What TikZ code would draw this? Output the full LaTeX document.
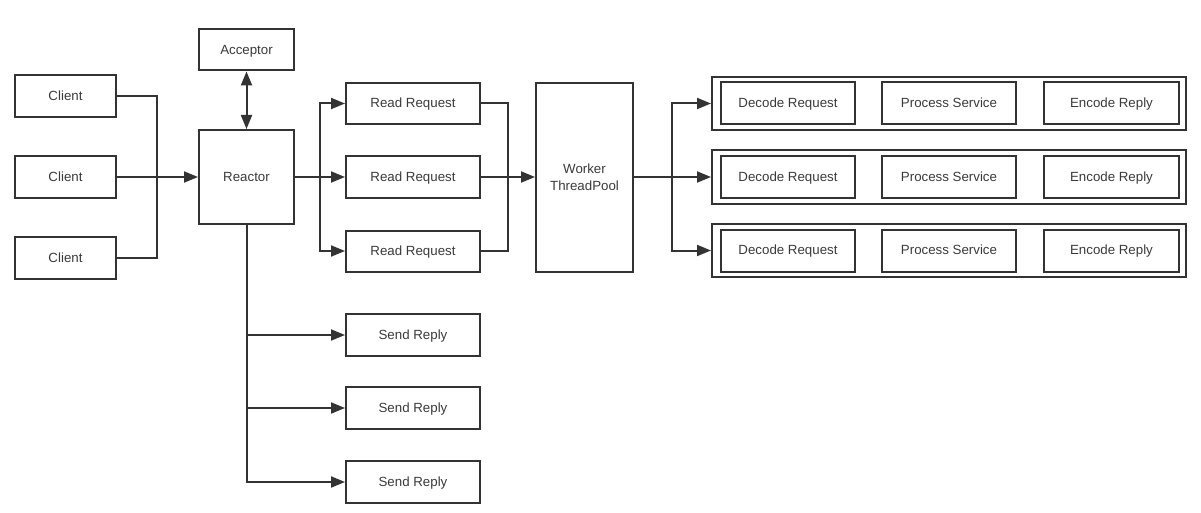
\documentclass[tikz,border=0pt]{standalone}
\usepackage{fontspec}
\setmainfont{Liberation Sans}
\usetikzlibrary{arrows.meta}
\definecolor{ink}{HTML}{333333}
\definecolor{txt}{HTML}{3A3A3A}
\begin{document}
\begin{tikzpicture}[x=1pt,y=-1pt,
  base/.style={draw=ink,line width=2pt,inner sep=0pt,text=txt,font=\fontsize{13.3}{17}\selectfont},
  box/.style={base,text height=0.82em,text depth=0pt},
  link/.style={draw=ink,line width=2pt},
  arr/.style={link,-{Triangle[length=14pt,width=11pt]}},
  darr/.style={link,{Triangle[length=14pt,width=11pt]}-{Triangle[length=14pt,width=11pt]}}]
\useasboundingbox (0,0) rectangle (1201,513);
% left
\node[box,minimum width=101pt,minimum height=42pt] (c1) at (65.5,96) {Client};
\node[box,minimum width=101pt,minimum height=42pt] (c2) at (65.5,177) {Client};
\node[box,minimum width=101pt,minimum height=42pt] (c3) at (65.5,258) {Client};
\node[box,minimum width=95pt,minimum height=41pt] (acc) at (246.5,50) {Acceptor};
\node[box,minimum width=95pt,minimum height=94pt] (rea) at (246.5,177) {Reactor};
% read requests
\node[box,minimum width=134pt,minimum height=41pt] (r1) at (413,103.5) {Read Request};
\node[box,minimum width=134pt,minimum height=41pt] (r2) at (413,177) {Read Request};
\node[box,minimum width=134pt,minimum height=41pt] (r3) at (413,251) {Read Request};
% send replies
\node[box,minimum width=134pt,minimum height=42pt] (s1) at (413,335) {Send Reply};
\node[box,minimum width=134pt,minimum height=42pt] (s2) at (413,408) {Send Reply};
\node[box,minimum width=134pt,minimum height=42pt] (s3) at (413,482) {Send Reply};
% worker
\node[base,align=center,minimum width=97pt,minimum height=189pt] (wk) at (584.5,177.5) {Worker\\ThreadPool};
% groups
\foreach \i/\y in {1/103.5,2/177,3/250.5}{
  \node[base,minimum width=474pt,minimum height=53pt] (g\i) at (949,\y) {};
  \node[box,minimum width=134pt,minimum height=42pt] (d\i) at (788,\y) {Decode Request};
  \node[box,minimum width=134pt,minimum height=42pt] (p\i) at (949,\y) {Process Service};
  \node[box,minimum width=135pt,minimum height=42pt] (e\i) at (1111.5,\y) {Encode Reply};
}
% junction coordinates
\coordinate (jx) at (157,177);
\coordinate (bx) at (320,177);
\coordinate (mx) at (508,177);
\coordinate (wx) at (672,177);
% clients -> reactor
\draw[link] (c1.east) -| (jx);
\draw[link] (c3.east) -| (jx);
\draw[arr] (c2.east) -- (rea.west);
% acceptor <-> reactor
\draw[darr] (acc.south) -- (rea.north);
% reactor -> read requests
\draw[arr] (rea.east) -- (r2.west);
\draw[arr] (bx) |- (r1.west);
\draw[arr] (bx) |- (r3.west);
% read requests -> worker
\draw[link] (r1.east) -| (mx);
\draw[link] (r3.east) -| (mx);
\draw[arr] (r2.east) -- (wk.west |- r2.east);
% worker -> groups
\draw[arr] (wk.east |- g2.west) -- (g2.west);
\draw[arr] (wx) |- (g1.west);
\draw[arr] (wx) |- (g3.west);
% reactor -> send replies
\draw[arr] (rea.south) |- (s3.west);
\draw[arr] (rea.south |- s1.west) -- (s1.west);
\draw[arr] (rea.south |- s2.west) -- (s2.west);
\end{tikzpicture}
\end{document}
